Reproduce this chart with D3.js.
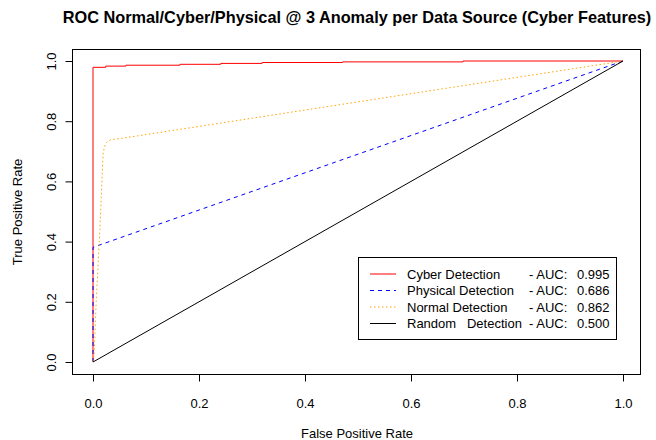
<!DOCTYPE html>
<html><head><meta charset="utf-8">
<script src="https://cdn.jsdelivr.net/npm/d3@7"></script>
<style>body{margin:0;background:#fff}text{font-family:"Liberation Sans",Arial,sans-serif;fill:#000}</style>
</head><body>
<svg id="c" width="656" height="440"></svg>
<script>
const cyberFPR = [0, 0, 0.024, 0.024, 0.062, 0.062, 0.164, 0.164, 0.241, 0.241, 0.319, 0.319, 0.471, 0.471, 0.698, 0.698, 1];
const cyberTPR = [0, 0.979, 0.979, 0.983, 0.983, 0.986, 0.986, 0.989, 0.989, 0.992, 0.992, 0.995, 0.995, 0.997, 0.997, 1, 1];
const physicalFPR = [0, 0, 1];
const physicalTPR = [0, 0.381, 1];
const normalFPR = [0, 0.002, 0.006, 0.013, 0.019, 0.021, 0.024, 0.028, 0.035, 0.05, 1];
const normalTPR = [0, 0.02, 0.2, 0.44, 0.69, 0.71, 0.725, 0.734, 0.739, 0.742, 1];
const randomFPR = [0, 1];
const randomTPR = [0, 1];
const seriesNames = ["Cyber Detection", "Physical Detection", "Normal Detection", "Random   Detection"];
const aucValues = ["0.995", "0.686", "0.862", "0.500"];
const ticks = [0, 0.2, 0.4, 0.6, 0.8, 1.0];

const svg = d3.select("#c");
const x = d3.scaleLinear().domain([0, 1]).range([93, 623]);
const y = d3.scaleLinear().domain([0, 1]).range([362, 61]);

const series = [
  {fpr: cyberFPR, tpr: cyberTPR, color: "#ff0000", dash: null},
  {fpr: physicalFPR, tpr: physicalTPR, color: "#0000ff", dash: "4,4"},
  {fpr: normalFPR, tpr: normalTPR, color: "#ffa500", dash: "1.5,2.5"},
  {fpr: randomFPR, tpr: randomTPR, color: "#000000", dash: null}
];
const line = d3.line().x(d => x(d[0])).y(d => y(d[1]));
series.forEach(s => {
  const pts = s.fpr.map((f, i) => [f, s.tpr[i]]);
  svg.append("path").attr("d", line(pts)).attr("fill", "none")
    .attr("stroke", s.color).attr("stroke-width", 1)
    .attr("stroke-dasharray", s.dash);
});

// box
svg.append("rect").attr("x", 72.5).attr("y", 49.5).attr("width", 568).attr("height", 325)
  .attr("fill", "none").attr("stroke", "#000").attr("stroke-width", 1);

// axes
const xAxis = d3.axisBottom(x).tickValues(ticks).tickFormat(d3.format(".1f")).tickSize(7).tickPadding(17);
const gx = svg.append("g").attr("transform", "translate(0,374.5)").call(xAxis);
gx.selectAll("text").style("font-size", "13px").attr("fill", "#000");
gx.selectAll("line,path").attr("stroke", "#000");
gx.select(".domain").attr("d", `M${x(0)},0H${x(1)}`);

const yAxis = d3.axisLeft(y).tickValues(ticks).tickFormat(d3.format(".1f")).tickSize(7);
const gy = svg.append("g").attr("transform", "translate(72.5,0)").call(yAxis);
gy.selectAll("line,path").attr("stroke", "#000");
gy.select(".domain").attr("d", `M0,${y(0)}V${y(1)}`);
gy.selectAll("text").remove();
gy.selectAll(".tick").append("text")
  .attr("transform", "translate(-21,0) rotate(-90)")
  .attr("text-anchor", "middle").attr("dy", "0.35em")
  .style("font-size", "13px").attr("fill", "#000")
  .text(d => d3.format(".1f")(d));

// titles
const title = svg.append("text").attr("x", 357).attr("y", 23).attr("text-anchor", "middle")
  .style("font-size", "15px").style("font-weight", "bold")
  .text("ROC Normal/Cyber/Physical @ 3 Anomaly per Data Source (Cyber Features)");
const tw = title.node().getComputedTextLength();
if (Math.abs(tw - 589) > 8) title.style("font-size", (15 * 589 / tw).toFixed(2) + "px");

svg.append("text").attr("x", 357).attr("y", 438).attr("text-anchor", "middle")
  .style("font-size", "13px").text("False Positive Rate");
svg.append("text").attr("transform", "translate(22,212) rotate(-90)").attr("text-anchor", "middle")
  .style("font-size", "13px").text("True Positive Rate");

// legend
const lg = svg.append("g");
lg.append("rect").attr("x", 358.5).attr("y", 257.5).attr("width", 258).attr("height", 82)
  .attr("fill", "#fff").attr("stroke", "#000");
series.forEach((s, i) => {
  const yy = 274 + i * 16.5;
  lg.append("line").attr("x1", 370).attr("x2", 396).attr("y1", yy).attr("y2", yy)
    .attr("stroke", s.color).attr("stroke-dasharray", s.dash);
  lg.append("text").attr("x", 407).attr("y", yy).attr("dy", "0.35em").style("font-size", "13px")
    .style("white-space", "pre").attr("xml:space", "preserve").text(seriesNames[i]);
  lg.append("text").attr("x", 529).attr("y", yy).attr("dy", "0.35em").style("font-size", "13px").text("- AUC:");
  lg.append("text").attr("x", 577).attr("y", yy).attr("dy", "0.35em").style("font-size", "13px").text(aucValues[i]);
});
</script>
</body></html>
